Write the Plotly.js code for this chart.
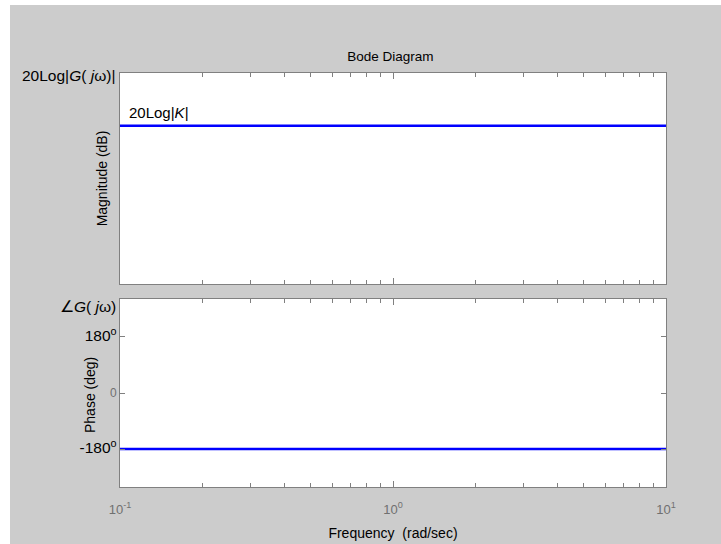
<!DOCTYPE html>
<html>
<head>
<meta charset="utf-8">
<script src="https://cdn.plot.ly/plotly-3.0.1.min.js"></script>
<style>
html,body{margin:0;padding:0;background:#ffffff;width:721px;height:544px;overflow:hidden;}
#chart{position:absolute;left:10px;top:5px;width:711px;height:539px;}
</style>
</head>
<body>
<div id="chart"></div>
<script>
// Data
const freq = [0.1, 1, 10];            // rad/sec
const magDb = [20, 20, 20];           // 20Log|K| (constant gain)
const phaseDeg = [-180, -180, -180];  // constant phase
const decadeTicks = [0.1, 1, 10];
const decadeLabels = ["10<sup>-1</sup>", "10<sup>0</sup>", "10<sup>1</sup>"];
const minorTicks = [0.2,0.3,0.4,0.5,0.6,0.7,0.8,0.9,2,3,4,5,6,7,8,9];
const phaseTicks = [-180, 0, 180];
const phaseLabels = [
  '<span style="font-size:15.5px;fill:#000">-180<sup>o</sup></span>',
  '0',
  '<span style="font-size:15.5px;fill:#000">180<sup>o</sup></span>'
];

const FONT = '"Liberation Sans", Arial, sans-serif';
const BLUE = '#0000ff';
const FRAME = '#808080';
const TXT = '#000000';

const traces = [
  {x: freq, y: magDb, xaxis: 'x2', yaxis: 'y2', mode: 'lines',
   line: {color: BLUE, width: 2.6}, hoverinfo: 'skip', showlegend: false},
  {x: freq, y: phaseDeg, xaxis: 'x', yaxis: 'y', mode: 'lines',
   line: {color: BLUE, width: 2.6}, hoverinfo: 'skip', showlegend: false}
];

const xCommon = {
  type: 'log', range: [-1, 1], showgrid: false, zeroline: false,
  showline: true, linecolor: FRAME, linewidth: 1, mirror: 'all',
  ticks: 'inside', ticklen: 6, tickcolor: FRAME, tickwidth: 1,
  tickmode: 'array', tickvals: decadeTicks, ticktext: decadeLabels,
  minor: {tickmode: 'array', tickvals: minorTicks, ticks: 'inside', ticklen: 4, tickcolor: FRAME, tickwidth: 1},
  tickfont: {family: FONT, size: 13, color: '#707070'}
};

const layout = {
  width: 711, height: 539,
  paper_bgcolor: '#cccccc', plot_bgcolor: '#ffffff',
  margin: {l: 110, r: 55, t: 68, b: 57},
  font: {family: FONT, color: TXT},
  title: {text: 'Bode Diagram', font: {family: FONT, size: 13.5, color: TXT},
          x: 0.535, xanchor: 'center', y: 0.905, yanchor: 'middle'},
  xaxis: Object.assign({}, xCommon, {
    anchor: 'y', domain: [0, 1], showticklabels: true, ticklabelstandoff: 10,
    title: {text: 'Frequency  (rad/sec)', font: {family: FONT, size: 14, color: TXT}, standoff: 12}
  }),
  xaxis2: Object.assign({}, xCommon, {
    anchor: 'y2', domain: [0, 1], matches: 'x', showticklabels: false
  }),
  yaxis: {
    domain: [0, 0.4541], range: [-302, 302], anchor: 'x',
    showgrid: false, zeroline: false,
    showline: true, linecolor: FRAME, linewidth: 1, mirror: 'all',
    ticks: 'inside', ticklen: 5, tickcolor: FRAME,
    tickmode: 'array', tickvals: phaseTicks, ticktext: phaseLabels,
    tickfont: {family: FONT, size: 12, color: '#707070'}
  },
  yaxis2: {
    domain: [0.4903, 1], range: [-40, 40], anchor: 'x2',
    showgrid: false, zeroline: false,
    showline: true, linecolor: FRAME, linewidth: 1, mirror: true,
    ticks: '', showticklabels: false,
    title: {text: 'Magnitude (dB)', font: {family: FONT, size: 14, color: TXT}, standoff: 8}
  },
  annotations: [
    {text: 'Phase (deg)', xref: 'paper', yref: 'paper', textangle: -90,
     x: -0.0549, y: 0.2222, xanchor: 'center', yanchor: 'middle', showarrow: false,
     font: {family: FONT, size: 14, color: TXT}},
    {text: '20Log|<i>G</i>( <i>j</i>ω)|', xref: 'paper', yref: 'paper',
     x: -0.005, y: 0.995, xanchor: 'right', yanchor: 'middle', showarrow: false,
     font: {family: FONT, size: 15.5, color: TXT}},
    {text: '∠<i>G</i>( <i>j</i>ω)', xref: 'paper', yref: 'paper',
     x: -0.003, y: 0.437, xanchor: 'right', yanchor: 'middle', showarrow: false,
     font: {family: FONT, size: 15.5, color: TXT}},
    {text: '20Log|<i>K</i>|', xref: 'paper', yref: 'paper',
     x: 0.013, y: 0.9035, xanchor: 'left', yanchor: 'middle', showarrow: false,
     font: {family: FONT, size: 15, color: TXT}}
  ]
};

Plotly.newPlot('chart', traces, layout, {displayModeBar: false, staticPlot: true});
</script>
</body>
</html>
